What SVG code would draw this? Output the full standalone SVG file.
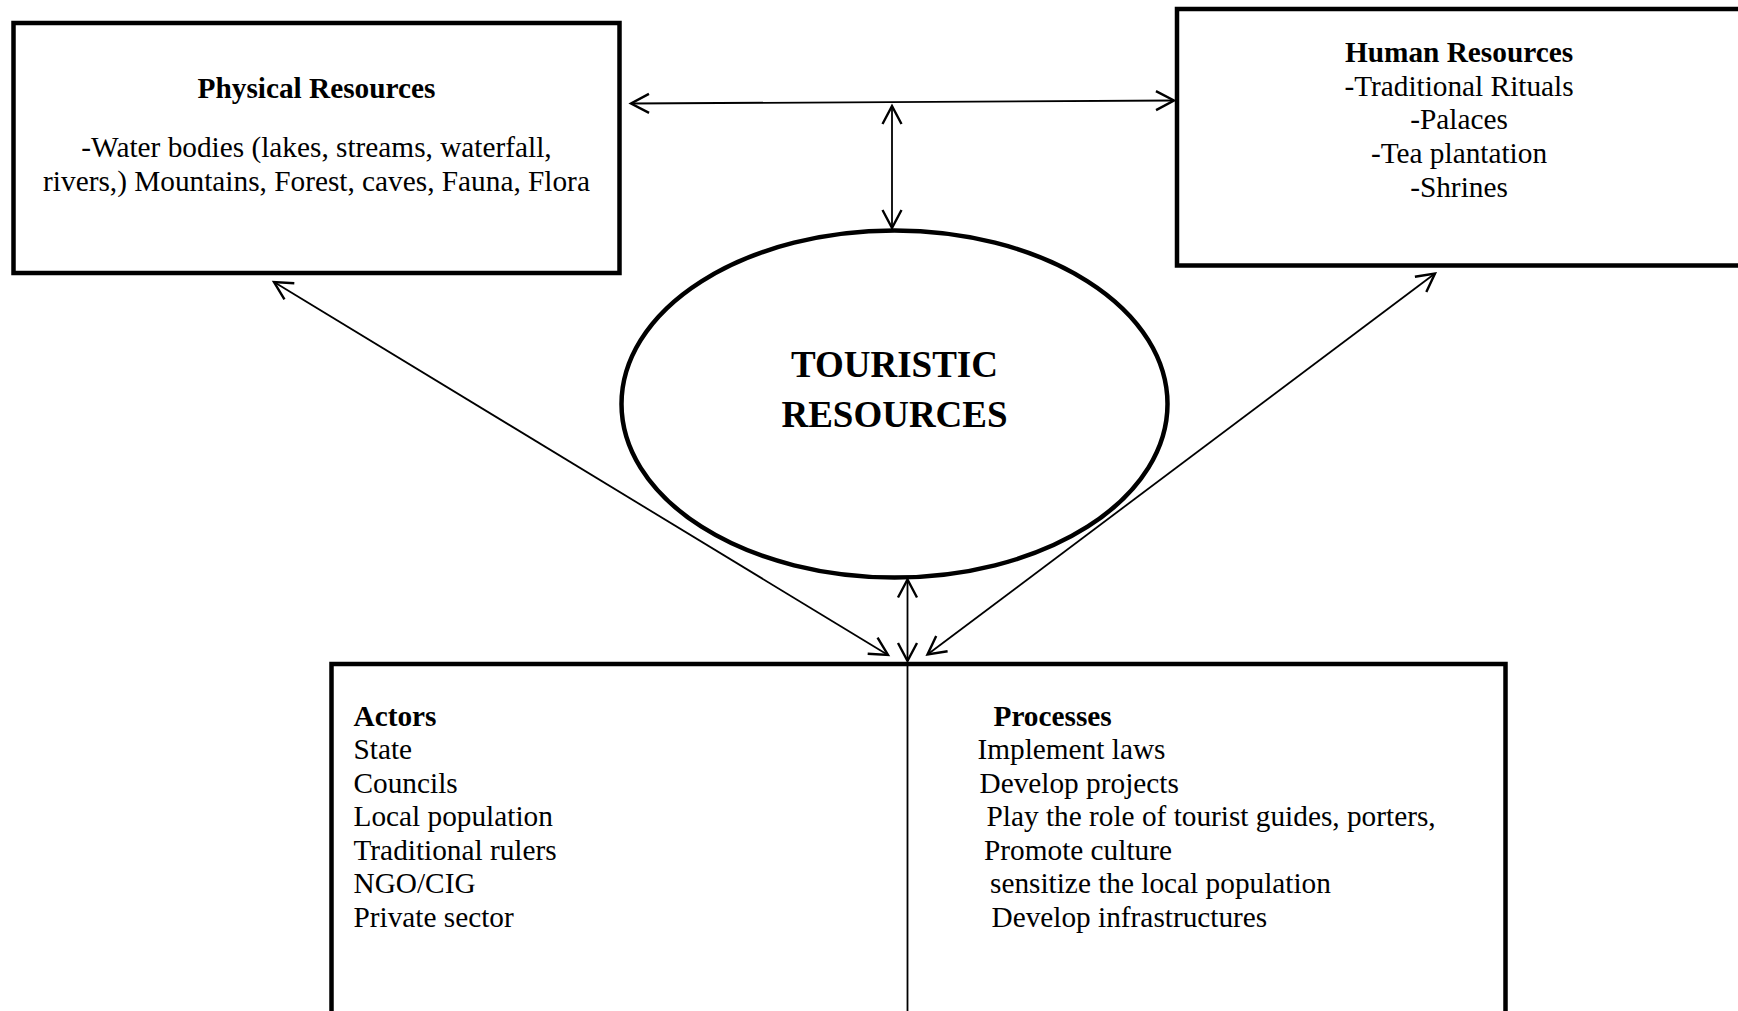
<svg xmlns="http://www.w3.org/2000/svg" width="1738" height="1011" viewBox="0 0 1738 1011">
  <defs>
    <!-- open V arrowhead, reused at both ends of every connector -->
    <marker id="arrow" markerUnits="userSpaceOnUse" viewBox="-22 -12 26 24" markerWidth="26" markerHeight="24" refX="0" refY="0" orient="auto-start-reverse" overflow="visible">
      <path d="M -18,-9.5 L 0,0 L -18,9.5" fill="none" stroke="#000" stroke-width="2.4" stroke-linejoin="miter"/>
    </marker>
  </defs>
  <style>
    .box { fill: #fff; stroke: #000; stroke-width: 4.5; }
    .txt { font-family: "Liberation Serif", "Times New Roman", serif; font-size: 29.3px; fill: #000; }
    .bold { font-weight: bold; }
    .big { font-family: "Liberation Serif", "Times New Roman", serif; font-size: 37px; font-weight: bold; fill: #000; }
    .mid { text-anchor: middle; }
    .link { fill: none; stroke: #000; stroke-width: 1.8; marker-start: url(#arrow); marker-end: url(#arrow); }
    .divider { stroke: #000; stroke-width: 1.8; }
  </style>

  <rect width="1738" height="1011" fill="#fff"/>

  <!-- Physical resources -->
  <g id="physical-resources">
    <rect class="box" x="13.5" y="23" width="606" height="250"/>
    <text class="txt bold mid" x="316.5" y="98">Physical Resources</text>
    <text class="txt mid" x="316.5" y="157">-Water bodies (lakes, streams, waterfall,</text>
    <text class="txt mid" x="316.5" y="191">rivers,) Mountains, Forest, caves, Fauna, Flora</text>
  </g>

  <!-- Human resources (box runs past the right edge) -->
  <g id="human-resources">
    <rect class="box" x="1177" y="9" width="565" height="256.5"/>
    <text class="txt bold mid" x="1459" y="62">Human Resources</text>
    <text class="txt mid" x="1459" y="95.5">-Traditional Rituals</text>
    <text class="txt mid" x="1459" y="129">-Palaces</text>
    <text class="txt mid" x="1459" y="163">-Tea plantation</text>
    <text class="txt mid" x="1459" y="197">-Shrines</text>
  </g>

  <!-- Central ellipse -->
  <g id="touristic-resources">
    <ellipse class="box" cx="894.5" cy="404" rx="273" ry="173.5"/>
    <text class="big mid" x="894.5" y="376.5">TOURISTIC</text>
    <text class="big mid" x="894.5" y="427">RESOURCES</text>
  </g>

  <!-- Actors / processes (box runs past the bottom edge) -->
  <g id="actors-processes">
    <rect class="box" x="331.5" y="664" width="1174" height="360"/>
    <line class="divider" x1="907.5" y1="664" x2="907.5" y2="1011"/>
    <text class="txt bold" x="353.5" y="726">Actors</text>
    <text class="txt" x="353.5" y="759">State</text>
    <text class="txt" x="353.5" y="792.5">Councils</text>
    <text class="txt" x="353.5" y="826">Local population</text>
    <text class="txt" x="353.5" y="859.5">Traditional rulers</text>
    <text class="txt" x="353.5" y="893">NGO/CIG</text>
    <text class="txt" x="353.5" y="926.5">Private sector</text>
    <text class="txt bold" x="993.5" y="726">Processes</text>
    <text class="txt" x="977.5" y="759">Implement laws</text>
    <text class="txt" x="979.5" y="792.5">Develop projects</text>
    <text class="txt" x="986.5" y="826">Play the role of tourist guides, porters,</text>
    <text class="txt" x="984" y="859.5">Promote culture</text>
    <text class="txt" x="990" y="893">sensitize the local population</text>
    <text class="txt" x="991.5" y="926.5">Develop infrastructures</text>
  </g>

  <!-- Connectors, all double-headed -->
  <g id="connectors">
    <line class="link" x1="631" y1="103.5" x2="1174" y2="100.5"/>
    <line class="link" x1="892" y1="106" x2="892" y2="228"/>
    <line class="link" x1="907.5" y1="579.5" x2="907.5" y2="661"/>
    <line class="link" x1="274" y1="282" x2="888" y2="655"/>
    <line class="link" x1="1435" y1="273.5" x2="927.5" y2="654.5"/>
  </g>
</svg>
